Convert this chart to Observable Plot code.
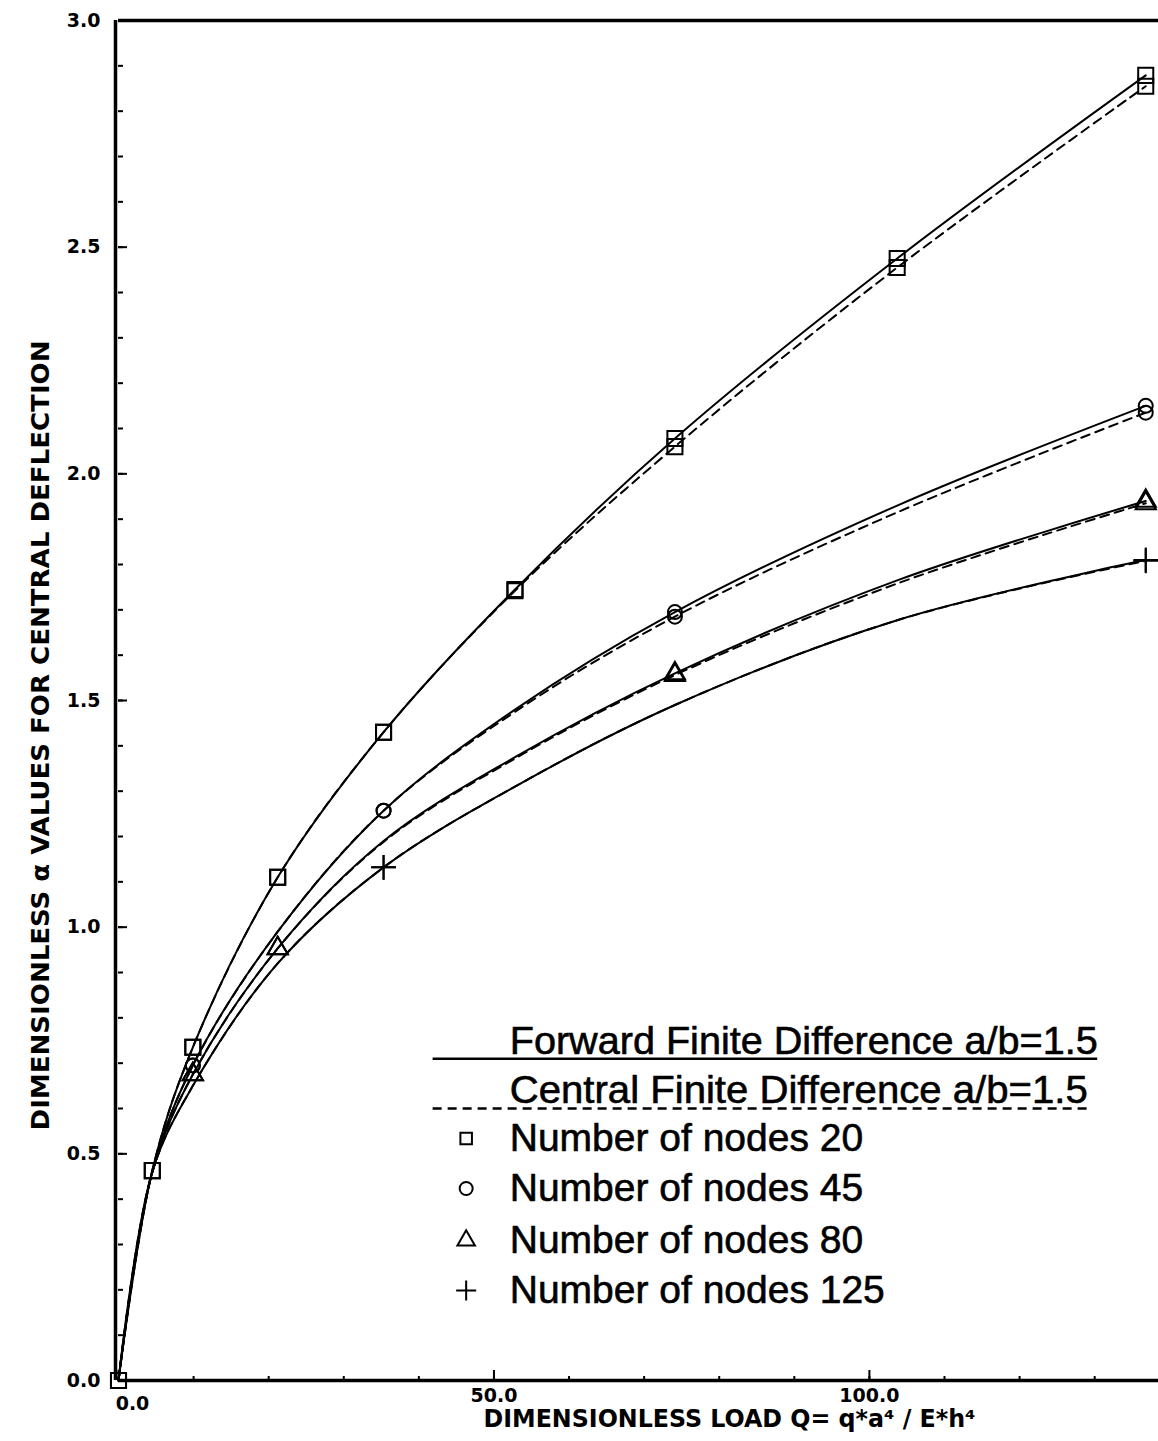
<!DOCTYPE html>
<html><head><meta charset="utf-8">
<script src="https://cdn.jsdelivr.net/npm/d3@7"></script>
<script src="https://cdn.jsdelivr.net/npm/@observablehq/plot@0.6"></script>
<style>body{margin:0;background:#fff;} svg{display:block}</style>
</head><body><div id="chart"></div>
<script>
// ---- data ----
const loads = [0, 4.5, 9.9, 21.2, 35.3, 52.8, 74.1, 103.7, 136.8];
const forward20  = [0, 0.463, 0.735, 1.110, 1.430, 1.745, 2.078, 2.475, 2.879];
const central20  = [0, 0.463, 0.735, 1.110, 1.430, 1.742, 2.060, 2.455, 2.855];
const forward45  = [0, 0.460, 0.695, 0.990, 1.257, 1.480, 1.695, 1.930, 2.150];
const central45  = [0, 0.460, 0.695, 0.990, 1.257, 1.475, 1.685, 1.915, 2.135];
const forward80  = [0, 0.460, 0.675, 0.953, 1.190, 1.375, 1.560, 1.765, 1.940];
const central80  = [0, 0.460, 0.675, 0.953, 1.188, 1.372, 1.556, 1.758, 1.935];
const forward125 = [0, 0.460, 0.650, 0.920, 1.132, 1.310, 1.490, 1.677, 1.810];
const central125 = [0, 0.460, 0.650, 0.920, 1.132, 1.310, 1.490, 1.677, 1.808];
const seriesNames = ["Number of nodes 20", "Number of nodes 45", "Number of nodes 80", "Number of nodes 125"];
const seriesSymbols = ["square", "circle", "triangle", "plus"];
const markerIndex = [[0,1,2,3,4,5,6,7,8], [2,4,6,8], [2,3,6,8], [4,8]];
const methodNames = ["Forward Finite Difference a/b=1.5", "Central Finite Difference a/b=1.5"];
const yMajorTicks = [0, 0.5, 1, 1.5, 2, 2.5, 3];
const yMinorTicks = d3.range(0, 31).map(i => i / 10);
const xMajorTicks = [0, 50, 100];
const xMinorTicks = d3.range(0, 14).map(i => i * 10);
const xTitle = "DIMENSIONLESS LOAD Q= q*a\u2074 / E*h\u2074";
const yTitle = "DIMENSIONLESS \u03b1 VALUES FOR CENTRAL DEFLECTION";

// ---- table ----
const forwardSets = [forward20, forward45, forward80, forward125];
const centralSets = [central20, central45, central80, central125];
const rows = [];
seriesNames.forEach((s, k) => {
  loads.forEach((q, i) => {
    rows.push({Q: q, value: forwardSets[k][i], series: s, method: "forward", i});
    rows.push({Q: q, value: centralSets[k][i], series: s, method: "central", i});
  });
});
const fwd = rows.filter(d => d.method === "forward");
const cen = rows.filter(d => d.method === "central");
const markRows = rows.filter(d => markerIndex[seriesNames.indexOf(d.series)].includes(d.i));

const symbolR = {square: 8.5, circle: 7, triangle: 7.5, plus: 8};
const dotMarks = seriesNames.map((s, k) =>
  Plot.dot(markRows.filter(d => d.series === s), {
    x: "Q", y: "value", symbol: () => seriesSymbols[k], r: symbolR[seriesSymbols[k]],
    stroke: "black", fill: "none", strokeWidth: 2
  })
);

// legend layout (data units)
const legX0 = 41.9, legX1 = 130.4, legX1d = 129.7, legText = 52.1, legSym = 46.3;
const legTitleY = [0.748, 0.640], legLineY = [0.710, 0.600];
const legRowY = [0.534, 0.4235, 0.309, 0.1985];
const legendFont = {fontFamily: "Liberation Sans, Arial, sans-serif", fontSize: 39, textAnchor: "start",
  fill: "black", stroke: "black", strokeWidth: 0.6};
const tickFont = {fontFamily: "DejaVu Sans, sans-serif", fontWeight: "bold", fontSize: 19, fill: "black"};
const titleFont = {fontFamily: "DejaVu Sans Condensed, sans-serif", fontWeight: "bold", fontSize: 24, fill: "black"};

const chart = Plot.plot({
  width: 1158, height: 1441,
  marginLeft: 118, marginRight: 0, marginTop: 20, marginBottom: 61,
  x: {domain: [0, 138.5], axis: null},
  y: {domain: [0, 3], axis: null},
  symbol: {domain: seriesSymbols, range: seriesSymbols},
  style: {background: "white"},
  marks: [
    // frame
    Plot.ruleY([0, 3], {stroke: "black", strokeWidth: 3.5}),
    Plot.ruleX([0], {stroke: "black", strokeWidth: 3.5, dx: -3}),
    // ticks (inward)
    Plot.tickY(yMinorTicks, {y: d => d, insetRight: 1040 - 5, stroke: "black", strokeWidth: 2}),
    Plot.tickY(yMajorTicks, {y: d => d, insetRight: 1040 - 9, stroke: "black", strokeWidth: 2}),
    Plot.tickX(xMinorTicks, {x: d => d, insetTop: 1360 - 4, stroke: "black", strokeWidth: 2}),
    Plot.tickX(xMajorTicks, {x: d => d, insetTop: 1360 - 10, stroke: "black", strokeWidth: 2}),
    // tick labels
    Plot.text(yMajorTicks, {y: d => d, frameAnchor: "left", dx: -18, textAnchor: "end",
      text: d => d.toFixed(1), ...tickFont}),
    Plot.text(xMajorTicks.slice(1), {x: d => d, frameAnchor: "bottom", dy: 15, lineAnchor: "middle",
      text: d => d.toFixed(1), ...tickFont}),
    Plot.text(xMajorTicks.slice(0, 1), {x: d => d, frameAnchor: "bottom", dy: 23, dx: 14, lineAnchor: "middle",
      text: d => d.toFixed(1), ...tickFont}),
    // axis titles
    Plot.text([xTitle], {frameAnchor: "bottom", dx: 729 - (118 + 1040 / 2), dy: 39, lineAnchor: "middle", ...titleFont}),
    Plot.text([yTitle], {frameAnchor: "left", rotate: -90, dx: -77, dy: 735 - 700, textAnchor: "middle", lineAnchor: "middle", ...titleFont}),
    // curves
    Plot.line(fwd, {x: "Q", y: "value", z: "series", curve: "catmull-rom", stroke: "black", strokeWidth: 2}),
    Plot.line(cen, {x: "Q", y: "value", z: "series", curve: "catmull-rom", stroke: "black", strokeWidth: 2, strokeDasharray: "9,6"}),
    ...dotMarks,
    // legend
    Plot.text([methodNames[0]], {x: legText, y: legTitleY[0], lineAnchor: "middle", ...legendFont}),
    Plot.text([methodNames[1]], {x: legText, y: legTitleY[1], lineAnchor: "middle", ...legendFont}),
    Plot.ruleY([legLineY[0]], {x1: legX0, x2: legX1, stroke: "black", strokeWidth: 2.5}),
    Plot.ruleY([legLineY[1]], {x1: legX0, x2: legX1d, stroke: "black", strokeWidth: 2.5, strokeDasharray: "9,6"}),
    Plot.text(seriesNames, {x: legText, y: (d, i) => legRowY[i], lineAnchor: "middle", ...legendFont}),
    Plot.dot(seriesNames, {x: legSym, y: (d, i) => legRowY[i], symbol: (d, i) => seriesSymbols[i], r: 6.5,
      stroke: "black", fill: "none", strokeWidth: 2})
  ]
});
document.getElementById("chart").appendChild(chart);
// fit title widths to the reference lettering
const fitWidths = new Map([[xTitle, 492], [yTitle, 790], [methodNames[0], 588], [methodNames[1], 578]]);
d3.select(chart).selectAll("text").each(function() {
  const w = fitWidths.get(this.textContent);
  if (w) {
    this.setAttribute("textLength", w);
    this.setAttribute("lengthAdjust", "spacingAndGlyphs");
  }
});
</script>
</body></html>
